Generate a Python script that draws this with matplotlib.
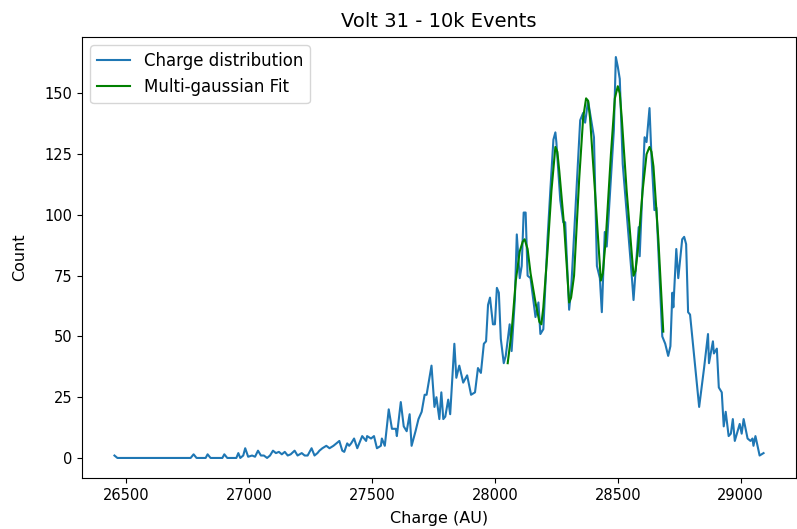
import numpy as np
import matplotlib.pyplot as plt

# charge histogram (AU, counts)
charge = [26452, 26464, 26762, 26774, 26786, 26823, 26831, 26843, 26891, 26899,
          26911, 26948, 26956, 26964, 26976, 26984, 26996, 27012, 27024, 27036,
          27048, 27060, 27073, 27085, 27097, 27109, 27121, 27133, 27145, 27157,
          27169, 27185, 27197, 27214, 27226, 27238, 27254, 27266, 27278, 27286,
          27298, 27314, 27327, 27343, 27355, 27367, 27379, 27387, 27399, 27407,
          27415, 27427, 27440, 27448, 27460, 27476, 27480, 27496, 27508, 27520,
          27536, 27540, 27552, 27568, 27581, 27597, 27601, 27617, 27629, 27641,
          27653, 27661, 27677, 27689, 27702, 27714, 27722, 27742, 27754, 27762,
          27774, 27782, 27790, 27798, 27810, 27818, 27835, 27843, 27855, 27871,
          27887, 27903, 27919, 27931, 27943, 27955, 27964, 27972, 27980, 27992,
          28000, 28008, 28016, 28024, 28036, 28044, 28060, 28068, 28081, 28089,
          28101, 28109, 28117, 28125, 28133, 28145, 28165, 28177, 28185, 28197,
          28214, 28226, 28238, 28246, 28250, 28266, 28278, 28286, 28302, 28310,
          28347, 28359, 28367, 28379, 28403, 28415, 28427, 28435, 28447, 28455,
          28484, 28492, 28500, 28508, 28520, 28556, 28564, 28585, 28589, 28609,
          28617, 28629, 28637, 28649, 28657, 28681, 28693, 28705, 28714, 28722,
          28726, 28738, 28746, 28762, 28770, 28778, 28786, 28794, 28831, 28851,
          28867, 28871, 28887, 28891, 28903, 28911, 28923, 28931, 28939, 28951,
          28960, 28968, 28976, 28996, 29004, 29012, 29028, 29040, 29048, 29052,
          29060, 29077, 29093]
counts = [1, 0, 0, 1.5, 0, 0, 1.5, 0, 0, 1.5,
          0, 0, 2, 0, 1, 4, 0.5, 1, 0.5, 3,
          1, 1, 0, 1, 3, 2, 2.5, 1.5, 2.5, 1,
          1.5, 3, 1, 2, 1, 1, 4, 1, 2, 3,
          4, 5, 4, 5, 6, 7, 3, 2.5, 6, 5,
          6, 8, 4, 6, 9, 7, 9, 8, 9, 4,
          5, 8, 5, 20, 12, 12, 9, 23, 13, 11,
          18, 5, 11, 16, 19, 26, 26, 38, 21, 25,
          16, 27, 16, 17, 24, 18, 47, 33, 38, 31,
          34, 26, 27, 37, 35, 47, 48, 63, 66, 55,
          55, 70, 68, 49, 39, 42, 55, 44, 65, 92,
          74, 79, 101, 101, 75, 74, 58, 64, 51, 53,
          90, 111, 131, 134, 130, 106, 97, 97, 61, 69,
          139, 142, 138, 147, 132, 79, 74, 60, 93, 87,
          135, 165, 161, 156, 121, 76, 65, 95, 83, 132,
          130, 144, 124, 102, 103, 50, 47, 42, 46, 68,
          62, 86, 74, 90, 91, 88, 60, 59, 21, 37,
          51, 39, 48, 43, 45, 29, 27, 13, 19, 9,
          10, 16, 7, 14, 10, 16, 8, 7, 8, 5,
          9, 1, 2]

# multi-gaussian fit curve
fit_x = [28052, 28068, 28085, 28101, 28113, 28121, 28133, 28145, 28165, 28181,
         28189, 28197, 28214, 28230, 28246, 28254, 28262, 28282, 28302, 28310,
         28322, 28343, 28359, 28371, 28379, 28387, 28407, 28431, 28439, 28451,
         28472, 28488, 28500, 28508, 28516, 28536, 28564, 28572, 28581, 28601,
         28617, 28629, 28637, 28645, 28665, 28685]
fit_y = [39, 52, 73, 85, 89, 90, 86, 76, 64, 56,
         55, 62, 85, 110, 128, 126, 118, 95, 64, 66,
         75, 115, 140, 148, 147, 140, 110, 73, 76, 90,
         125, 148, 153, 150, 140, 110, 75, 77, 85, 110,
         125, 128, 126, 120, 90, 52]

fig = plt.figure(figsize=(7.97, 5.29), dpi=100)
ax = fig.add_axes([82/797, 51/529, 714/797, 441/529])

ax.plot(charge, counts, color='#1f77b4', label='Charge distribution')
ax.plot(fit_x, fit_y, color='green', label='Multi-gaussian Fit')

ax.set_title('Volt 31 - 10k Events', fontsize=14, pad=7)
ax.set_xlabel('Charge (AU)', fontsize=11.5, labelpad=6)
ax.set_ylabel('Count', fontsize=11.5, labelpad=12)
ax.tick_params(labelsize=10.5)
ax.legend(loc='upper left', fontsize=12)

fig.savefig('out.png', dpi=100)
